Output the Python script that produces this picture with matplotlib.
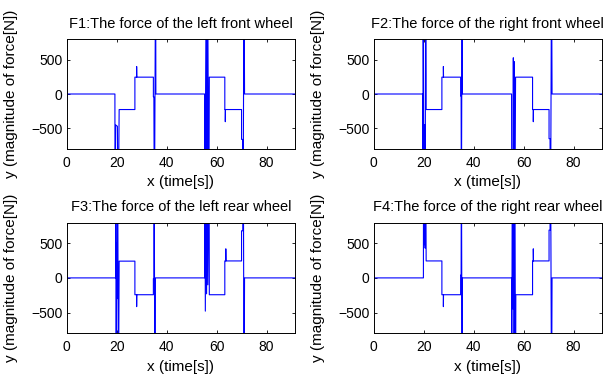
import numpy as np
import matplotlib
matplotlib.use("Agg")
import matplotlib.pyplot as plt

plt.rcParams['font.family'] = ['Liberation Sans', 'DejaVu Sans']

# --- data: breakpoints of the wheel forces (time [s], force [N]) ---
# off-scale spikes are written as +-2000, the axes clip them at +-800
t_f1 = [0, 19.3, 19.35, 19.6, 20.3, 20.6, 21.0, 27.3, 27.3, 28.0, 28.0, 28.05, 34.7, 34.7, 34.9,
        35.1, 35.6, 35.7, 55.2, 55.3, 55.9, 56.2, 56.4, 56.9, 57.1, 63.3, 63.3, 63.5, 63.5, 63.55,
        70.0, 70.0, 70.4, 70.6, 71.0, 71.2, 91.4]
f_f1 = [0, 0, -2000, -450, -470, -2000, -226, -226, 245, 245, 400, 245, 245, -40, -40,
        -2000, 2000, 0, 0, -2000, 2000, -2000, 2000, -2000, 245, 245, -226, -226, -403, -226,
        -226, -660, -660, -2000, 2000, 0, 0]

t_f2 = [0, 19.7, 19.7, 19.8, 20.1, 20.2, 20.5, 20.6, 20.8, 21.0, 21.0, 27.3, 27.3, 27.9, 27.9,
        27.95, 34.8, 34.8, 35.0, 35.1, 35.4, 35.5, 55.2, 55.3, 55.7, 55.9, 56.1, 56.3, 56.5, 56.8,
        63.6, 63.6, 63.9, 63.9, 63.95, 70.2, 70.2, 70.6, 70.8, 71.2, 71.4, 91.4]
f_f2 = [0, 0, -2000, 2000, -2000, -450, -450, -2000, 2000, 290, -226, -226, 245, 245, 400,
        245, 245, -30, -30, -2000, 2000, 0, 0, -2000, -2000, 527, -2000, 470, -2000, 245,
        245, -226, -226, -403, -226, -226, -650, -650, -2000, 2000, 0, 0]

t_f3 = [0, 19.6, 19.65, 19.8, 20.0, 20.1, 20.2, 20.4, 20.7, 21.0, 27.3, 27.3, 28.0, 28.0, 28.05,
        34.7, 34.7, 34.9, 35.0, 35.3, 35.5, 55.3, 55.35, 55.5, 55.8, 56.0, 56.3, 56.5, 57.0, 57.1,
        63.3, 63.3, 63.7, 63.7, 63.75, 70.0, 70.0, 70.5, 70.7, 71.0, 71.2, 91.4]
f_f3 = [0, 0, 2000, -2000, 500, 500, -300, 2000, -2000, 242, 242, -243, -243, -415, -243,
        -243, -10, -10, 2000, -2000, 0, 0, 2000, -480, 2000, -230, 2000, -100, 2000, -243,
        -243, 245, 245, 420, 245, 245, 680, 680, 2000, -2000, 0, 0]

t_f4 = [0, 19.9, 19.95, 20.1, 20.3, 20.4, 20.6, 20.8, 21.0, 27.3, 27.3, 27.9, 27.9, 27.95,
        34.8, 34.8, 35.0, 35.1, 35.4, 35.5, 55.2, 55.25, 55.5, 55.8, 56.0, 56.2, 56.5, 56.8, 56.9,
        63.6, 63.6, 63.9, 63.9, 63.95, 70.2, 70.2, 70.6, 70.8, 71.2, 71.4, 91.4]
f_f4 = [0, 0, 2000, 500, 480, 2000, 430, 2000, 245, 245, -243, -243, -415, -243,
        -243, 40, 40, 2000, -2000, 0, 0, -2000, 2000, -450, 2000, -2000, 2000, -2000, -243,
        -243, 245, 245, 420, 245, 245, 690, 690, 2000, -2000, 0, 0]

titles = ["F1:The force of the left front wheel",
          "F2:The force of the right front wheel",
          "F3:The force of the left rear wheel",
          "F4:The force of the right rear wheel"]
x_ticks = [0, 20, 40, 60, 80]
y_ticks = [-500, 0, 500]

series = [(t_f1, f_f1), (t_f2, f_f2), (t_f3, f_f3), (t_f4, f_f4)]

# axes boxes in figure fractions (left, bottom, width, height)
W, H = 606, 378
boxes = [
    [66.7 / W, 1 - 149.0 / H, 228.3 / W, 110.0 / H],
    [373.7 / W, 1 - 149.0 / H, 228.3 / W, 110.0 / H],
    [66.7 / W, 1 - 333.3 / H, 228.3 / W, 110.8 / H],
    [373.7 / W, 1 - 333.3 / H, 228.3 / W, 110.8 / H],
]

fig = plt.figure(figsize=(W / 100, H / 100), dpi=100)
fig.patch.set_facecolor('white')

for (t, f), title, box in zip(series, titles, boxes):
    ax = fig.add_axes(box)
    ax.plot(t, f, color='#0000ff', linewidth=0.8)
    ax.set_xlim(0, 91.4)
    ax.set_ylim(-800, 800)
    ax.set_xticks(x_ticks)
    ax.set_yticks(y_ticks)
    ax.tick_params(direction='in', length=2.5, width=0.6, top=True, right=True,
                   labelsize=10)
    ax.tick_params(axis='x', pad=5)
    ax.tick_params(axis='y', pad=3)
    for sp in ax.spines.values():
        sp.set_linewidth(0.7)
    ax.set_title(title, fontsize=10.5, pad=8)
    ax.set_xlabel("x (time[s])", fontsize=11)
    ax.set_ylabel("y (magnitude of force[N])", fontsize=11)
    ax.xaxis.set_label_coords(0.5, -0.24)
    ax.yaxis.set_label_coords(-0.215, 0.5)

fig.savefig("out.png", dpi=100)
plt.close(fig)
